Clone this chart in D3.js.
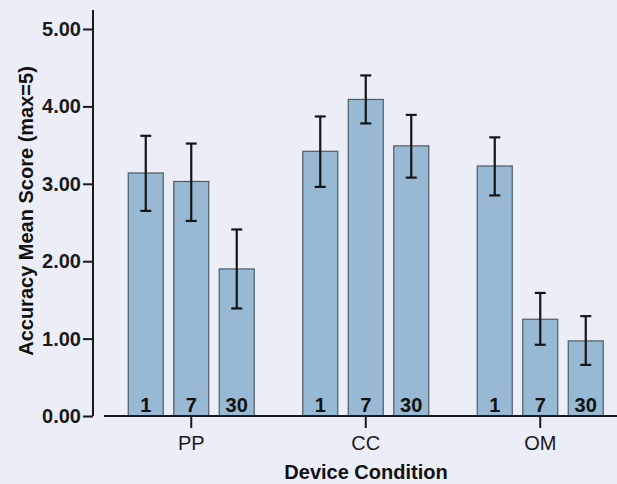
<!DOCTYPE html>
<html>
<head>
<meta charset="utf-8">
<script src="https://cdn.jsdelivr.net/npm/d3@7"></script>
<style>
  html, body { margin: 0; padding: 0; background: #eceef7; }
  svg { display: block; font-family: "Liberation Sans", Arial, sans-serif; }
</style>
</head>
<body>
<svg id="chart" width="617" height="484"></svg>
<script>
// data
var groups = ["PP", "CC", "OM"];
var days = ["1", "7", "30"];
var means = {
  PP: [3.14, 3.03, 1.90],
  CC: [3.42, 4.09, 3.49],
  OM: [3.23, 1.25, 0.97]
};
var errLow = {
  PP: [2.65, 2.52, 1.39],
  CC: [2.96, 3.78, 3.08],
  OM: [2.85, 0.92, 0.66]
};
var errHigh = {
  PP: [3.62, 3.52, 2.41],
  CC: [3.87, 4.40, 3.89],
  OM: [3.60, 1.59, 1.29]
};
var yTicks = [0, 1, 2, 3, 4, 5];

var svg = d3.select("#chart");

var x0 = d3.scaleBand().domain(groups).range([104, 627.5])
  .paddingInner(0.2178).paddingOuter(0.1089);
var x1 = d3.scaleBand().domain(days).range([0, x0.bandwidth()])
  .paddingInner(0.2308).paddingOuter(0.1154);
var y = d3.scaleLinear().domain([0, 5]).range([416, 29]);

// flatten into rows
var rows = [];
groups.forEach(function(g) {
  days.forEach(function(d, i) {
    rows.push({group: g, day: d, value: means[g][i], lo: errLow[g][i], hi: errHigh[g][i]});
  });
});

// bars
var bar = svg.append("g").selectAll("g")
  .data(rows)
  .enter().append("g")
    .attr("transform", function(d) { return "translate(" + (x0(d.group) + x1(d.day)) + ",0)"; });

bar.append("rect")
  .attr("x", 0)
  .attr("y", function(d) { return y(d.value); })
  .attr("width", x1.bandwidth())
  .attr("height", function(d) { return y(0) - y(d.value); })
  .attr("fill", "#98b9d3")
  .attr("stroke", "#4d5b66")
  .attr("stroke-width", 1.2);

// labels inside bars
bar.append("text")
  .attr("x", x1.bandwidth() / 2)
  .attr("y", y(0) - 4)
  .attr("text-anchor", "middle")
  .attr("font-size", "20px")
  .attr("font-weight", "bold")
  .attr("fill", "#111")
  .text(function(d) { return d.day; });

// error bars
var cap = 5.5;
bar.append("line")
  .attr("x1", x1.bandwidth() / 2).attr("x2", x1.bandwidth() / 2)
  .attr("y1", function(d) { return y(d.hi); })
  .attr("y2", function(d) { return y(d.lo); })
  .attr("stroke", "#151515").attr("stroke-width", 2.2);
bar.append("line")
  .attr("x1", x1.bandwidth() / 2 - cap).attr("x2", x1.bandwidth() / 2 + cap)
  .attr("y1", function(d) { return y(d.hi); })
  .attr("y2", function(d) { return y(d.hi); })
  .attr("stroke", "#151515").attr("stroke-width", 2.2);
bar.append("line")
  .attr("x1", x1.bandwidth() / 2 - cap).attr("x2", x1.bandwidth() / 2 + cap)
  .attr("y1", function(d) { return y(d.lo); })
  .attr("y2", function(d) { return y(d.lo); })
  .attr("stroke", "#151515").attr("stroke-width", 2.2);

// y axis
var yAxis = svg.append("g")
  .attr("transform", "translate(93,0)")
  .call(d3.axisLeft(y).tickValues(yTicks).tickFormat(d3.format(".2f")).tickSize(10).tickPadding(2).tickSizeOuter(0));
yAxis.select(".domain").remove();
yAxis.append("line")
  .attr("x1", 0).attr("x2", 0).attr("y1", 10).attr("y2", y(0))
  .attr("stroke", "#1a1a1a").attr("stroke-width", 2);
yAxis.selectAll(".tick line").attr("stroke", "#1a1a1a").attr("stroke-width", 2);
yAxis.selectAll(".tick text")
  .attr("fill", "#1a1a1a")
  .attr("font-size", "20px")
  .attr("font-weight", "bold")
  .attr("font-family", "'Liberation Sans', Arial, sans-serif");

// x axis
var xAxis = svg.append("g")
  .attr("transform", "translate(0," + y(0) + ")")
  .call(d3.axisBottom(x0).tickSize(12).tickPadding(8).tickSizeOuter(0));
xAxis.select(".domain").remove();
xAxis.append("line")
  .attr("x1", 104).attr("x2", 617).attr("y1", 0).attr("y2", 0)
  .attr("stroke", "#1a1a1a").attr("stroke-width", 2);
xAxis.selectAll(".tick line").attr("stroke", "#1a1a1a").attr("stroke-width", 2);
xAxis.selectAll(".tick text")
  .attr("fill", "#1a1a1a")
  .attr("font-size", "20px")
  .attr("font-family", "'Liberation Sans', Arial, sans-serif");

// axis titles
svg.append("text")
  .attr("x", 366).attr("y", 479)
  .attr("text-anchor", "middle")
  .attr("font-size", "20px")
  .attr("font-weight", "bold")
  .attr("fill", "#111")
  .text("Device Condition");

svg.append("text")
  .attr("transform", "translate(33,211) rotate(-90)")
  .attr("text-anchor", "middle")
  .attr("font-size", "20px")
  .attr("font-weight", "bold")
  .attr("fill", "#111")
  .text("Accuracy Mean Score (max=5)");
</script>
</body>
</html>
